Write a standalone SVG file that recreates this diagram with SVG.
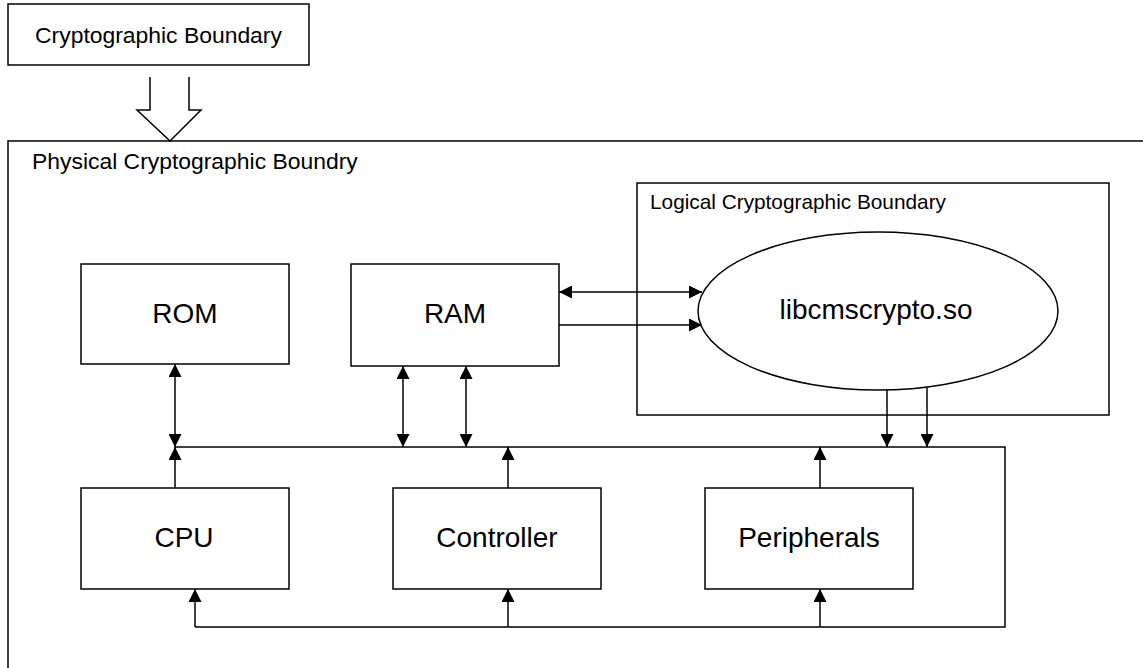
<svg xmlns="http://www.w3.org/2000/svg" width="1143" height="668" viewBox="0 0 1143 668">
<style>
.box{fill:#fff;stroke:#000;stroke-width:1.5}
.ln{fill:none;stroke:#000;stroke-width:1.5}
.big{font-family:"Liberation Sans",Arial,sans-serif;font-size:28px;text-anchor:middle;fill:#000}
.mid{font-family:"Liberation Sans",Arial,sans-serif;font-size:22.9px;fill:#000}
.sm{font-family:"Liberation Sans",Arial,sans-serif;font-size:20.8px;fill:#000}
</style>
<defs>
<marker id="ah" viewBox="0 0 13 13" refX="13" refY="6.5" markerWidth="13" markerHeight="13" markerUnits="userSpaceOnUse" orient="auto-start-reverse">
<path d="M0,0 L13,6.5 L0,13 Z" fill="#000"/>
</marker>
</defs>
<rect width="1143" height="668" fill="#fff"/>
<g id="top-boundary">
<rect class="box" x="8" y="4" width="301" height="61"/>
<text class="mid" x="158.5" y="43" text-anchor="middle">Cryptographic Boundary</text>
</g>
<g id="hollow-arrow">
<path class="box" d="M150,77 L150,110 L137,110 L170,141 L201,110 L189,110 L189,77"/>
</g>
<g id="physical">
<rect class="ln" x="8" y="141" width="1150" height="540"/>
<text class="mid" x="32" y="169">Physical Cryptographic Boundry</text>
</g>
<g id="logical">
<rect class="box" x="637" y="183" width="472" height="232"/>
<text class="sm" x="650" y="209">Logical Cryptographic Boundary</text>
</g>
<g id="libcmscrypto">
<ellipse class="box" cx="878" cy="311" rx="180" ry="79"/>
<text class="big" x="876" y="319">libcmscrypto.so</text>
</g>
<g id="rom"><rect class="box" x="81" y="264" width="208" height="100"/><text class="big" x="185" y="323">ROM</text></g>
<g id="ram"><rect class="box" x="351" y="264" width="208" height="102"/><text class="big" x="455" y="323">RAM</text></g>
<g id="cpu"><rect class="box" x="81" y="488" width="208" height="101"/><text class="big" x="184" y="547">CPU</text></g>
<g id="controller"><rect class="box" x="393" y="488" width="208" height="101"/><text class="big" x="497" y="547">Controller</text></g>
<g id="peripherals"><rect class="box" x="705" y="488" width="208" height="101"/><text class="big" x="809" y="547">Peripherals</text></g>
<g id="connectors">
<path class="ln" d="M175,447 L1005,447 L1005,627 L195,627"/>
<line class="ln" x1="195" y1="627" x2="195" y2="589" marker-end="url(#ah)"/>
<line class="ln" x1="508" y1="627" x2="508" y2="589" marker-end="url(#ah)"/>
<line class="ln" x1="820" y1="627" x2="820" y2="589" marker-end="url(#ah)"/>
<line class="ln" x1="175" y1="364" x2="175" y2="447" marker-start="url(#ah)" marker-end="url(#ah)"/>
<line class="ln" x1="175" y1="488" x2="175" y2="447" marker-end="url(#ah)"/>
<line class="ln" x1="403" y1="366" x2="403" y2="447" marker-start="url(#ah)" marker-end="url(#ah)"/>
<line class="ln" x1="466" y1="366" x2="466" y2="447" marker-start="url(#ah)" marker-end="url(#ah)"/>
<line class="ln" x1="508" y1="488" x2="508" y2="447" marker-end="url(#ah)"/>
<line class="ln" x1="820" y1="488" x2="820" y2="447" marker-end="url(#ah)"/>
<line class="ln" x1="887" y1="390" x2="887" y2="447" marker-end="url(#ah)"/>
<line class="ln" x1="927" y1="388" x2="927" y2="447" marker-end="url(#ah)"/>
<line class="ln" x1="559" y1="292" x2="702" y2="292" marker-start="url(#ah)" marker-end="url(#ah)"/>
<line class="ln" x1="559" y1="325" x2="702" y2="325" marker-end="url(#ah)"/>
</g>
</svg>
